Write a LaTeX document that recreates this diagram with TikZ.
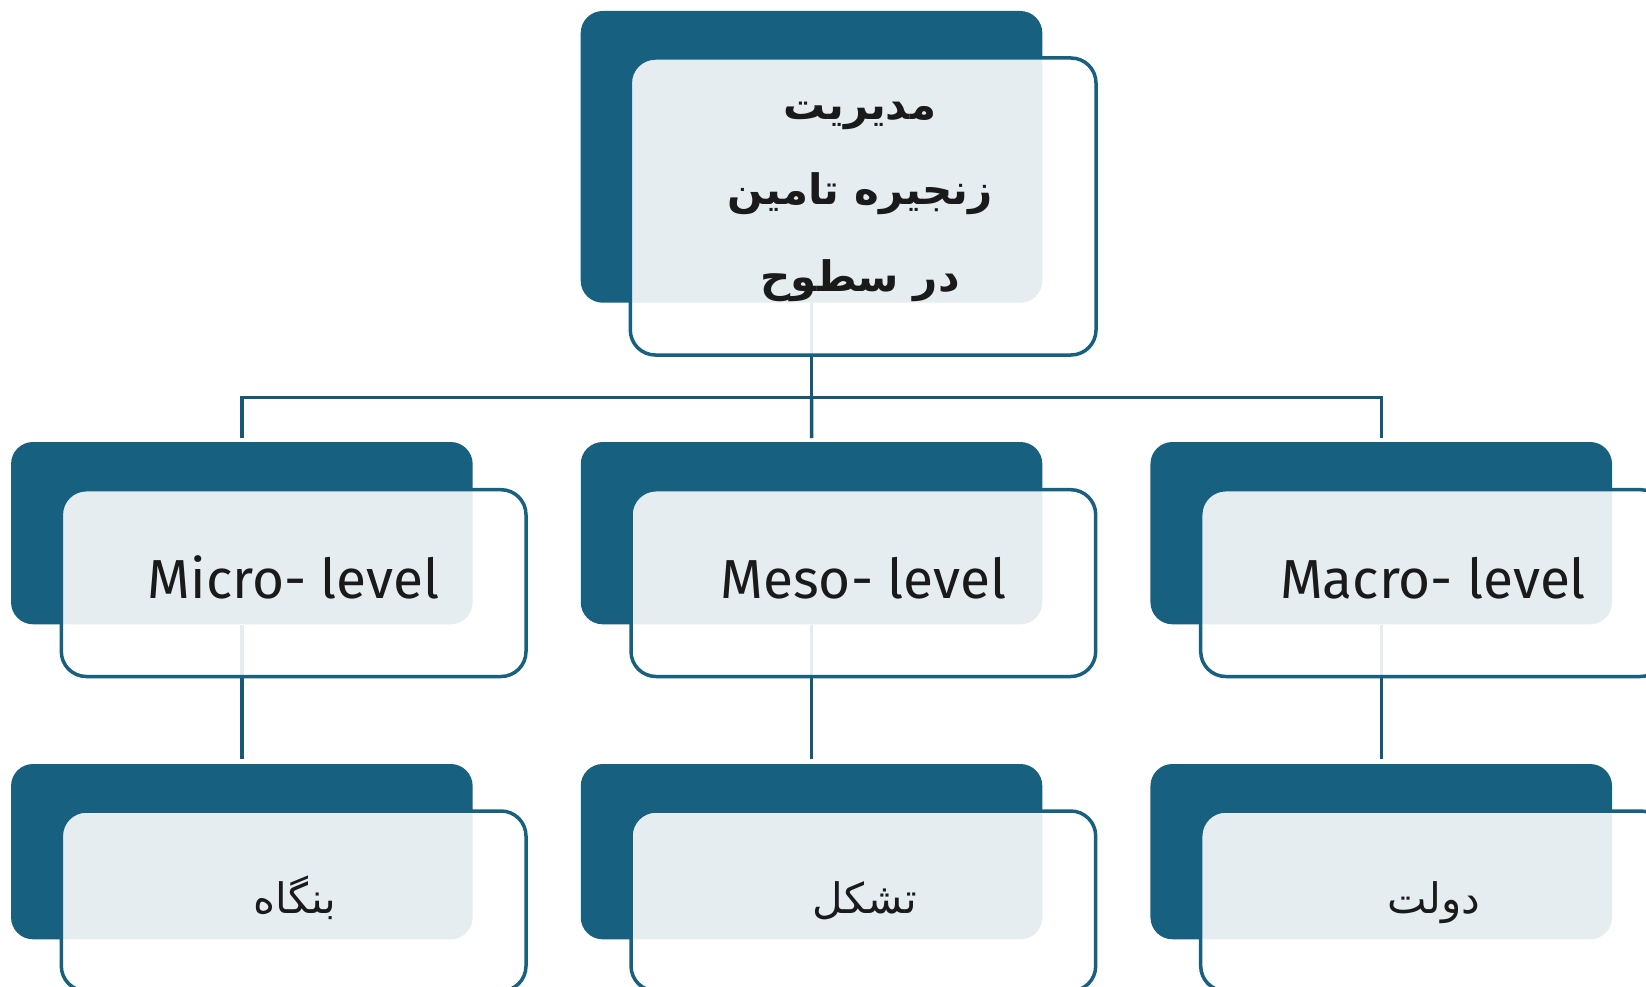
\documentclass[tikz,border=0pt]{standalone}
\usepackage{fontspec}
\setmainfont{Fira Sans}
\newfontfamily\fa[Script=Arabic]{DejaVu Sans}
\TeXXeTstate=1
\usetikzlibrary{calc}
\pgfdeclarelayer{bg}
\pgfsetlayers{bg,main}
\definecolor{dk}{RGB}{24,96,128}
\definecolor{ln}{RGB}{22,88,118}
\definecolor{tx}{RGB}{26,26,26}
\begin{document}
\begin{tikzpicture}[x=1pt,y=-1pt,
  darkbox/.style={fill=dk, rounded corners=22pt, inner sep=0pt, minimum width=461.6pt},
  framebox/.style={draw=dk, line width=3.5pt, fill=white, fill opacity=0.89, rounded corners=25pt, inner sep=0pt, minimum width=464.7pt},
  conn/.style={draw=ln, line width=3.5pt},
  lvl/.style={font=\fontsize{55}{60}\selectfont, text=tx, anchor=base, inner sep=0pt},
  fat/.style={font=\fa\fontsize{42}{46}\selectfont, text=tx, anchor=base, inner sep=0pt},
  ttl/.style={font=\fa\bfseries\fontsize{42}{46}\selectfont, text=tx, anchor=base, inner sep=0pt}]
\useasboundingbox (0,0) rectangle (1646,987);
\clip (0,0) rectangle (1646,987);

% top
\node[darkbox, minimum height=291.7pt] (topd) at (811.5,156.85) {};
\node[framebox, minimum width=465.7pt, minimum height=297pt] (topf) at (863.15,206.5) {};
\node[ttl] (t1) at (860,120) {\beginR مدیریت\endR};
\node[ttl] (t2) at (860,205) {\beginR زنجیره تامین\endR};
\node[ttl] (t3) at (860,291) {\beginR در سطوح\endR};

% middle row
\node[darkbox, minimum height=182.3pt] (micd) at (241.85,533.15) {};
\node[darkbox, minimum height=182.3pt] (mesd) at (811.55,533.15) {};
\node[darkbox, minimum height=182.3pt] (macd) at (1381.25,533.15) {};
\node[framebox, minimum height=186.8pt] (micf) at (293.65,583.1) {};
\node[framebox, minimum height=186.8pt] (mesf) at (863.35,583.1) {};
\node[framebox, minimum height=186.8pt] (macf) at (1433.05,583.1) {};
\node[lvl] (mict) at (293.65,598) {Micro- level};
\node[lvl] (mest) at (863.35,598) {Meso- level};
\node[lvl] (mact) at (1433.05,598) {Macro- level};

% bottom row
\node[darkbox, minimum height=175.3pt] (micb) at (241.85,851.65) {};
\node[darkbox, minimum height=175.3pt] (mesb) at (811.55,851.65) {};
\node[darkbox, minimum height=175.3pt] (macb) at (1381.25,851.65) {};
\node[framebox, minimum height=180pt] (micg) at (293.65,901) {};
\node[framebox, minimum height=180pt] (mesg) at (863.35,901) {};
\node[framebox, minimum height=180pt] (macg) at (1433.05,901) {};
\node[fat] (micx) at (295,913) {\beginR بنگاه\endR};
\node[fat] (mesx) at (865,913) {\beginR تشکل\endR};
\node[fat] (macx) at (1434,913) {\beginR دولت\endR};

% connectors
\coordinate (bus) at (811.5,397.5);
\begin{pgfonlayer}{bg}
\draw[conn] (topd.south) -- (bus);
\draw[conn] ([yshift=3.7pt]micd.north) |- (bus) -| ([yshift=3.7pt]macd.north);
\draw[conn] (bus) -- ([yshift=3.7pt]mesd.north);
\draw[conn] (micd.south) -- ([yshift=5pt]micb.north);
\draw[conn] (mesd.south) -- ([yshift=5pt]mesb.north);
\draw[conn] (macd.south) -- ([yshift=5pt]macb.north);
\end{pgfonlayer}
\end{tikzpicture}
\end{document}
